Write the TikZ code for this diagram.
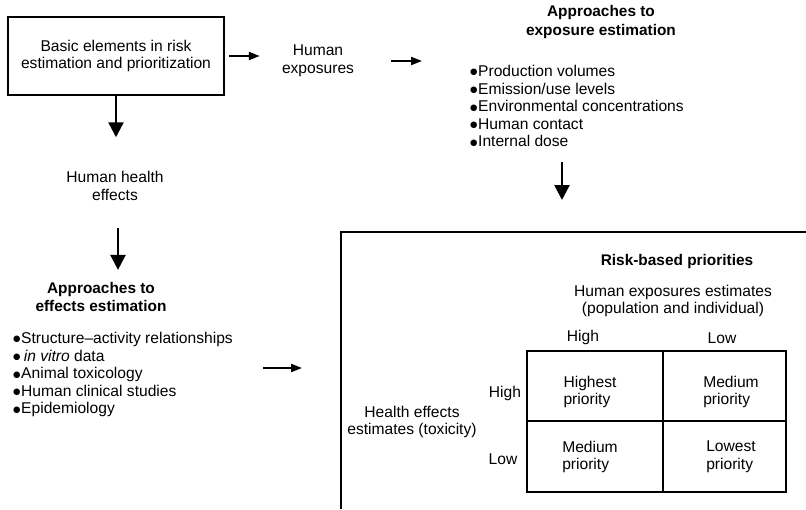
\documentclass[tikz,border=0pt]{standalone}
\usepackage{fontspec}
\setmainfont{Liberation Sans}
\newfontfamily\symfont{DejaVu Sans}
\usetikzlibrary{arrows.meta,calc}
% list bullet: a small filled dot set from DejaVu Sans
\newcommand\bul{\raisebox{1.6pt}{\symfont\fontsize{8.5}{8.5}\selectfont ●}\hspace{0.6pt}}
\begin{document}
\begin{tikzpicture}[x=1pt,y=-1pt,
  txt/.style={font=\fontsize{15.6}{17.6}\selectfont, align=center, inner sep=0pt},
  head/.style={txt, font=\fontsize{15.4}{18.5}\selectfont\bfseries},
  items/.style={txt, align=left},
  harr/.style={line width=2pt, -{Triangle[length=11pt,width=8pt]}},
  varr/.style={line width=2.4pt, -{Triangle[length=15pt,width=15pt]}},
  frame/.style={line width=2pt}]
\useasboundingbox (0,0) rectangle (806,509);

% top row
\node[txt, draw, frame, minimum width=216pt, minimum height=78pt] (basic) at (116,56)
  {Basic elements in risk\\estimation and prioritization};
\node[txt] (hexp) at (318,61) {Human\\exposures};
\node[head] (appexp) at (601,22) {Approaches to\\exposure estimation};
\node[items, anchor=north west] (explist) at (470,65)
  {\bul Production volumes\\\bul Emission/use levels\\\bul Environmental concentrations\\\bul Human contact\\\bul Internal dose};

% left column
\node[txt] (heff) at (115,186) {Human health\\effects};
\node[head] (appeff) at (101,297) {Approaches to\\effects estimation};
\node[items, anchor=north west] (efflist) at (13,332)
  {\bul Structure–activity relationships\\\bul\,\textit{in vitro} data\\\bul Animal toxicology\\\bul Human clinical studies\\\bul Epidemiology};

% risk panel (runs off the right and bottom edges)
\coordinate (risk) at (341,232);
\draw[frame] (341,509) -- (risk) -- (806,232);
\node[head] (rtitle) at (677,262) {Risk-based priorities};
\node[txt] (hexpest) at (673,301) {Human exposures estimates\\(population and individual)};
\node[txt] (colhi) at (583,337) {High};
\node[txt] (collo) at (722,338) {Low};
\node[txt] (rowhi) at (505,393) {High};
\node[txt] (rowlo) at (503,459) {Low};
\node[txt] (heest) at (412,422) {Health effects\\estimates (toxicity)};

% priority grid
\draw[frame] (527,351) rectangle (786,492);
\draw[line width=1.4pt] (663,351) -- (663,492) (527,421) -- (786,421);
\node[txt, align=left] (c11) at (590,392) {Highest\\priority};
\node[txt, align=left] (c12) at (731,392) {Medium\\priority};
\node[txt, align=left] (c21) at (590,457) {Medium\\priority};
\node[txt, align=left] (c22) at (731,457) {Lowest\\priority};

% connectors
\draw[harr, shorten <=4pt, shorten >=22pt] (basic.east) -- (basic.east -| hexp.west);
\draw[harr, shorten <=37pt, shorten >=48pt] (hexp.east) -- (hexp.east -| explist.west);
\draw[varr, shorten >=34pt] (basic.south) -- (basic.south |- heff.north);
\draw[varr, shorten <=27pt, shorten >=12pt] (heff.south -| 118,0) -- (appeff.north -| 118,0);
\coordinate (edrop) at (562,162);
\draw[varr, shorten >=32pt] (edrop) -- (edrop |- risk);
\coordinate (eout) at (263,368);
\draw[harr, shorten >=39pt] (eout) -- (eout -| risk);
\end{tikzpicture}
\end{document}
